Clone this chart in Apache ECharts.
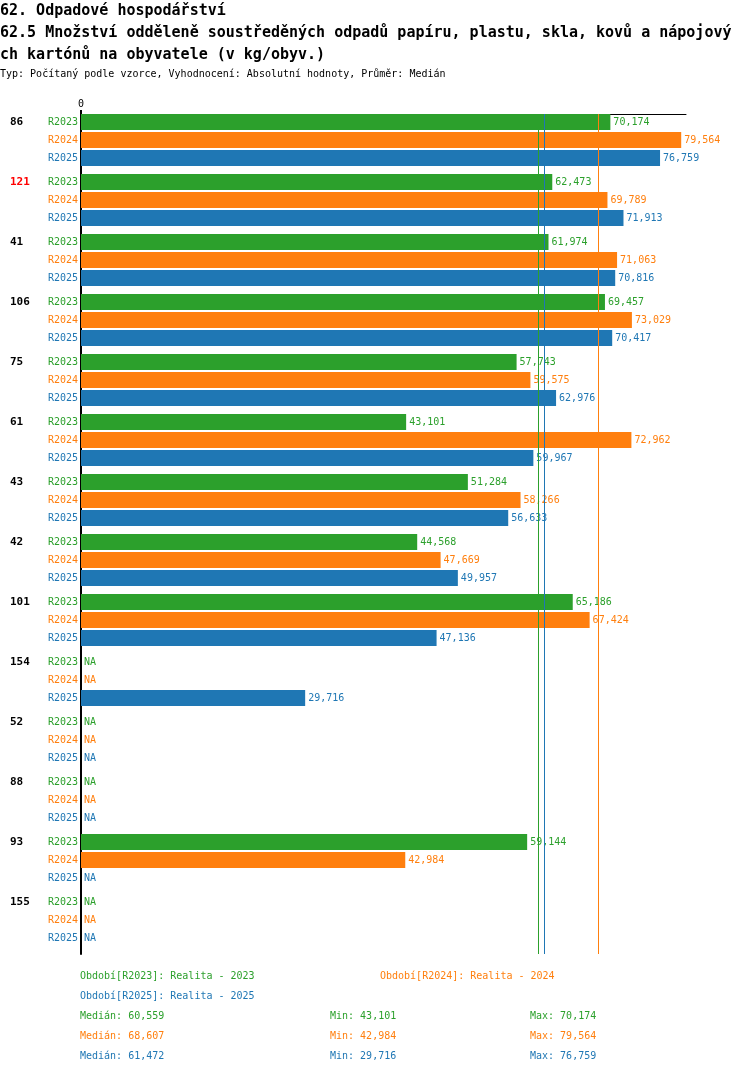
<!DOCTYPE html>
<html>
<head>
<meta charset="utf-8">
<script src="https://cdn.jsdelivr.net/npm/echarts@6/dist/echarts.min.js"></script>
<style>
  html, body { margin: 0; padding: 0; background: #fff; }
  #main { width: 750px; height: 1074px; }
</style>
</head>
<body>
<div id="main"></div>
<script>
// skupiny (ORP) a hodnoty za obdobi, null = NA
var groups = ['86', '121', '41', '106', '75', '61', '43', '42', '101', '154', '52', '88', '93', '155'];
var redGroups = ['121'];
var r2023 = [70.174, 62.473, 61.974, 69.457, 57.743, 43.101, 51.284, 44.568, 65.186, null, null, null, 59.144, null];
var r2024 = [79.564, 69.789, 71.063, 73.029, 59.575, 72.962, 58.266, 47.669, 67.424, null, null, null, 42.984, null];
var r2025 = [76.759, 71.913, 70.816, 70.417, 62.976, 59.967, 56.633, 49.957, 47.136, 29.716, null, null, null, null];
var periods = ['R2023', 'R2024', 'R2025'];
var periodNames = ['Realita - 2023', 'Realita - 2024', 'Realita - 2025'];
var colors = ['#2ca02c', '#ff7f0e', '#1f77b4'];

var FONT = 'DejaVu Sans Mono';

function fmt(v) {
    return (Math.round(v * 1000 + 1e-6) / 1000).toFixed(3).replace('.', ',');
}
function stats(arr) {
    var v = arr.filter(function (x) { return x != null; }).sort(function (a, b) { return a - b; });
    var n = v.length;
    var med = n % 2 ? v[(n - 1) / 2] : (v[n / 2 - 1] + v[n / 2]) / 2;
    return { median: med, min: v[0], max: v[n - 1] };
}

var all = [r2023, r2024, r2025];
var st = all.map(stats);

var series = all.map(function (arr, i) {
    return {
        name: periods[i],
        type: 'bar',
        barWidth: 16,
        barGap: '12.5%',
        itemStyle: { color: colors[i] },
        data: arr.map(function (v) {
            return v == null ? { value: 0, na: true } : { value: v };
        }),
        label: {
            show: true,
            position: 'right',
            distance: 3,
            fontFamily: FONT,
            fontSize: 10,
            color: colors[i],
            formatter: function (p) { return p.data.na ? 'NA' : fmt(p.value); }
        },
        markLine: {
            silent: true,
            symbol: 'none',
            label: { show: false },
            lineStyle: { color: colors[i], type: 'solid', width: 1 },
            data: [{ xAxis: st[i].median }]
        }
    };
});
// prazdna serie jen kvuli mezere na konci skupiny
series.push({
    type: 'bar',
    barWidth: 6,
    barGap: '12.5%',
    silent: true,
    data: groups.map(function () { return null; })
});

// texty pod grafem
var graphics = [];
function addText(x, y, text, color) {
    graphics.push({
        type: 'text', x: x, y: y,
        style: { text: text, fill: color, font: '10px "' + FONT + '"', textVerticalAlign: 'middle' }
    });
}
addText(80, 976, 'Období[R2023]: ' + periodNames[0], colors[0]);
addText(380, 976, 'Období[R2024]: ' + periodNames[1], colors[1]);
addText(80, 996, 'Období[R2025]: ' + periodNames[2], colors[2]);
st.forEach(function (s, i) {
    var y = 1016 + i * 20;
    addText(80, y, 'Medián: ' + fmt(s.median), colors[i]);
    addText(330, y, 'Min: ' + fmt(s.min), colors[i]);
    addText(530, y, 'Max: ' + fmt(s.max), colors[i]);
});

var myChart = echarts.init(document.getElementById('main'));
var option = {
    animation: false,
    title: {
        left: 0,
        top: 0,
        padding: 0,
        itemGap: 2,
        text: '62. Odpadové hospodářství\n62.5 Množství odděleně soustředěných odpadů papíru, plastu, skla, kovů a nápojový\nch kartónů na obyvatele (v kg/obyv.)',
        textStyle: { fontFamily: FONT, fontSize: 15, fontWeight: 'bold', color: '#000', lineHeight: 22 },
        subtext: 'Typ: Počítaný podle vzorce, Vyhodnocení: Absolutní hodnoty, Průměr: Medián',
        subtextStyle: { fontFamily: FONT, fontSize: 10, color: '#000', lineHeight: 12 }
    },
    grid: { left: 81, right: 64, top: 114, height: 840, containLabel: false },
    xAxis: {
        type: 'value',
        position: 'top',
        min: 0,
        max: 80.2,
        splitLine: { show: false },
        axisLine: { show: true, lineStyle: { color: '#000', width: 1 } },
        axisTick: { show: true, customValues: [0], length: 4, lineStyle: { color: '#000', width: 2 } },
        axisLabel: { customValues: [0], margin: 5, fontFamily: FONT, fontSize: 10, color: '#000' }
    },
    yAxis: {
        type: 'category',
        inverse: true,
        data: groups,
        axisTick: { show: false },
        axisLine: { show: true, lineStyle: { color: '#000', width: 2 } },
        axisLabel: {
            margin: 3,
            padding: [0, 0, 8, 0],
            formatter: function (g) {
                var gs = redGroups.indexOf(g) >= 0 ? 'gr' : 'g';
                return '{' + gs + '|' + g + '}{a|R2023}\n{s| }{b|R2024}\n{s| }{c|R2025}';
            },
            rich: {
                g: { width: 38, align: 'left', fontFamily: FONT, fontSize: 11, fontWeight: 'bold', color: '#000', lineHeight: 18 },
                gr: { width: 38, align: 'left', fontFamily: FONT, fontSize: 11, fontWeight: 'bold', color: '#ff0000', lineHeight: 18 },
                s: { width: 38, fontSize: 10, lineHeight: 18 },
                a: { fontFamily: FONT, fontSize: 10, color: colors[0], lineHeight: 18 },
                b: { fontFamily: FONT, fontSize: 10, color: colors[1], lineHeight: 18 },
                c: { fontFamily: FONT, fontSize: 10, color: colors[2], lineHeight: 18 }
            }
        }
    },
    graphic: graphics,
    series: series
};
myChart.setOption(option);
</script>
</body>
</html>
